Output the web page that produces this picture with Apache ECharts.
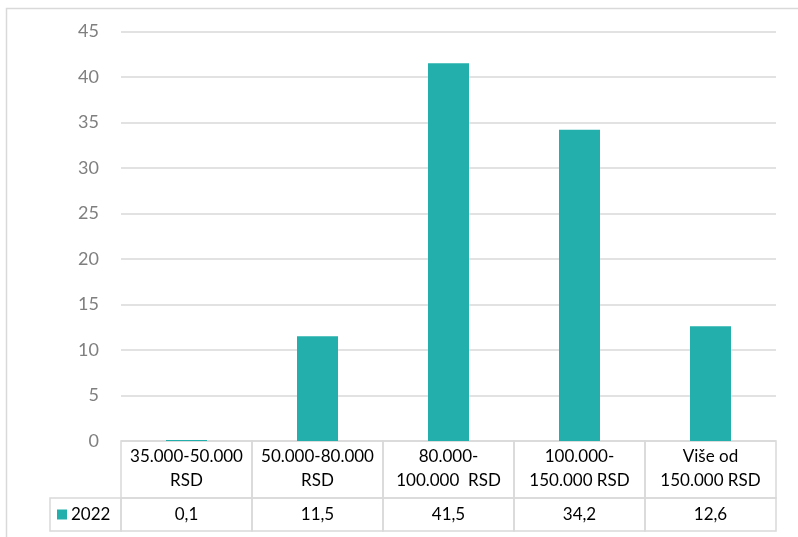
<!DOCTYPE html>
<html><head><meta charset="utf-8">
<script src="https://cdn.jsdelivr.net/npm/echarts@6/dist/echarts.min.js"></script>
<style>html,body{margin:0;padding:0;background:#fff}#c{width:798px;height:537px}</style>
</head><body><div id="c"></div>
<script>
const categories = ['35.000-50.000\nRSD', '50.000-80.000\nRSD', '80.000-\n100.000  RSD', '100.000-\n150.000 RSD', 'Više od\n150.000 RSD'];
const values2022 = [0.1, 11.5, 41.5, 34.2, 12.6];
const valueLabels = ['0,1', '11,5', '41,5', '34,2', '12,6'];
const seriesName = '2022';

const FONT = 'Lato, "Noto Sans", sans-serif';
const BAR = '#23B0AD';
const LINE = '#D9D9D9';

const chart = echarts.init(document.getElementById('c'));
chart.setOption({
  animation: false,
  backgroundColor: '#fff',
  graphic: [{
    type: 'rect', shape: {x: 6.5, y: 8.5, width: 900, height: 600},
    style: {fill: 'none', stroke: LINE, lineWidth: 1.5}, silent: true, z: 0
  }],
  grid: [
    {left: 121, right: 22, top: 31.5, bottom: 96},
    {left: 121, right: 22, top: 441, height: 90}
  ],
  xAxis: [
    {type: 'category', gridIndex: 0, data: categories, axisLabel: {show: false},
     axisTick: {show: false}, axisLine: {show: false}},
    {type: 'category', gridIndex: 1, data: categories, show: false}
  ],
  yAxis: [
    {type: 'value', gridIndex: 0, min: 0, max: 45, interval: 5,
     axisLine: {show: false}, axisTick: {show: false},
     axisLabel: {color: '#7F7F7F', fontSize: 18, fontFamily: FONT, margin: 22},
     splitLine: {lineStyle: {color: LINE, width: 1.5}}},
    {type: 'value', gridIndex: 1, min: 0, max: 1, show: false}
  ],
  series: [
    {type: 'bar', name: seriesName, xAxisIndex: 0, yAxisIndex: 0, data: values2022,
     barWidth: 41, itemStyle: {color: BAR}},
    {type: 'custom', xAxisIndex: 1, yAxisIndex: 1,
     data: categories.map((c, i) => [i, 0]),
     renderItem: function (params, api) {
       const i = api.value(0);
       const cx = api.coord([i, 0])[0];
       const w = api.size([1, 0])[0];
       const cs = params.coordSys;
       const top = cs.y, h1 = 57, h2 = cs.height - 57;
       const x0 = cx - w / 2;
       const ls = {fill: 'none', stroke: LINE, lineWidth: 1.5};
       const children = [
         {type: 'rect', shape: {x: x0, y: top, width: w, height: h1}, style: ls},
         {type: 'rect', shape: {x: x0, y: top + h1, width: w, height: h2}, style: ls},
         {type: 'text', style: {text: categories[i], x: cx, y: top + h1 / 2 - 1, align: 'center',
           verticalAlign: 'middle', fill: '#000', font: '17px ' + FONT, lineHeight: 24}},
         {type: 'text', style: {text: valueLabels[i], x: cx, y: top + h1 + h2 / 2, align: 'center',
           verticalAlign: 'middle', fill: '#000', font: '17px ' + FONT}}
       ];
       if (i === 0) {
         children.push(
           {type: 'rect', shape: {x: x0 - 71, y: top + h1, width: 71, height: h2}, style: ls},
           {type: 'rect', shape: {x: x0 - 64, y: top + h1 + h2 / 2 - 5, width: 10, height: 10}, style: {fill: BAR}},
           {type: 'text', style: {text: seriesName, x: x0 - 50, y: top + h1 + h2 / 2, align: 'left',
             verticalAlign: 'middle', fill: '#000', font: '17px ' + FONT}}
         );
       }
       return {type: 'group', children: children};
     }}
  ]
});
</script></body></html>
